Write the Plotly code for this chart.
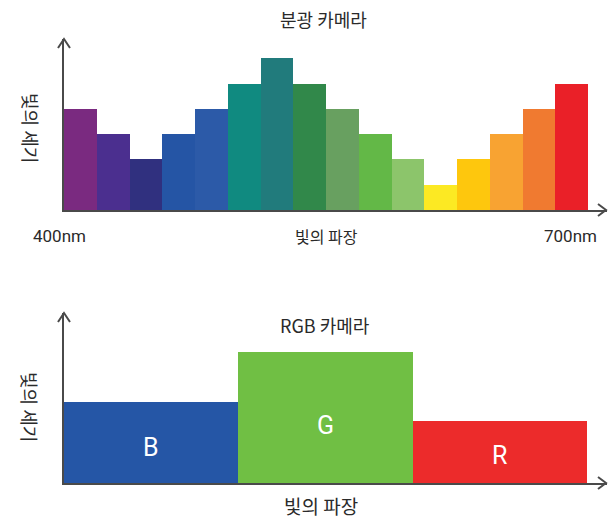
import plotly.graph_objects as go

# ---------------- data ----------------
spectral_bands = list(range(1, 17))  # 16 wavelength bins, 400nm -> 700nm
spectral_intensity = [4, 3, 2, 3, 4, 5, 6, 5, 4, 3, 2, 1, 2, 3, 4, 5]
spectral_colors = ["#7a2a80", "#4b2f8f", "#30307f", "#2555a5", "#2c5aa8", "#108a80",
                   "#217b7c", "#31884a", "#68a060", "#63b847", "#8cc56b", "#fce923",
                   "#fec70d", "#f8a332", "#f07a30", "#ea2028"]

rgb_channels = ["B", "G", "R"]
rgb_positions = [1, 2, 3]
rgb_intensity = [3.2, 5.18, 2.45]
rgb_colors = ["#2556a6", "#70bf44", "#ec2b2b"]

top_title = "분광 카메라"
bottom_title = "RGB 카메라"
x_title = "빛의 파장"
y_title = "빛의 세기"
range_labels = ["400nm", "700nm"]

# ---------------- layout helpers ----------------
W, H = 608, 521
def px(x):
    return x / W
def py(y):
    return 1 - y / H

KR = "Noto Sans CJK KR"
NARROW = "Roboto, sans-serif"
AX = "#4a4a4a"
TXT = "#2a2a2a"

fig = go.Figure()
fig.add_trace(go.Bar(x=spectral_bands, y=spectral_intensity, width=1,
                     marker=dict(color=spectral_colors, line=dict(width=0)),
                     xaxis="x", yaxis="y", hoverinfo="skip"))
fig.add_trace(go.Bar(x=rgb_positions, y=rgb_intensity, width=1,
                     marker=dict(color=rgb_colors, line=dict(width=0)),
                     xaxis="x2", yaxis="y2", hoverinfo="skip"))

axis_common = dict(showgrid=False, zeroline=False, showticklabels=False, ticks="",
                   showline=True, linecolor=AX, linewidth=2, fixedrange=True)

fig.update_layout(
    width=W, height=H, showlegend=False,
    paper_bgcolor="white", plot_bgcolor="white",
    margin=dict(l=0, r=0, t=0, b=0),
    bargap=0,
    xaxis=dict(domain=[px(64), px(607)], range=[0.5, 17.08], anchor="y", **axis_common),
    yaxis=dict(domain=[py(210), py(39)], range=[0, 6.76], anchor="x", **axis_common),
    xaxis2=dict(domain=[px(64), px(607)], range=[0.5, 3.615], anchor="y2", **axis_common),
    yaxis2=dict(domain=[py(483), py(313)], range=[0, 6.72], anchor="x2", **axis_common),
)

# arrow heads (open chevrons)
shapes = []
for ytop, ybase in [(39, 210), (313, 483)]:
    shapes.append(dict(type="path", xref="paper", yref="paper",
                       xsizemode="pixel", ysizemode="pixel",
                       xanchor=px(64), yanchor=py(ytop),
                       path="M -6,-9 L 0,0 L 6,-9",
                       line=dict(color=AX, width=2)))
    shapes.append(dict(type="path", xref="paper", yref="paper",
                       xsizemode="pixel", ysizemode="pixel",
                       xanchor=px(606), yanchor=py(ybase),
                       path="M -8,6 L 0,0 L -8,-6",
                       line=dict(color=AX, width=2)))
fig.update_layout(shapes=shapes)

ann = []
def text(x, y, s, size, family=KR, color=TXT, angle=0):
    ann.append(dict(x=px(x), y=py(y), xref="paper", yref="paper", text=s,
                    showarrow=False, xanchor="center", yanchor="middle",
                    textangle=angle, font=dict(family=family, size=size, color=color)))

text(323, 19, top_title, 18)
text(326, 236, x_title, 16)
text(59, 236, range_labels[0], 17, family=NARROW, color=TXT)
text(570, 236, range_labels[1], 17, family=NARROW, color=TXT)
text(31, 128, y_title, 18, angle=90)

text(325, 325, bottom_title, 18)
text(321, 505, x_title, 19)
text(30, 407, y_title, 18, angle=90)

fig.update_layout(annotations=ann)

# channel labels inside RGB bars
for ch, xpos, val in zip(rgb_channels, rgb_positions, rgb_intensity):
    fig.add_annotation(x=xpos, y=val * 0.44, xref="x2", yref="y2", text=ch,
                       showarrow=False, font=dict(family=NARROW, size=25, color="white"))

fig.write_html("out.html", config={"displayModeBar": False},
               post_script="document.body.style.margin='0';document.body.style.overflow='hidden';")
